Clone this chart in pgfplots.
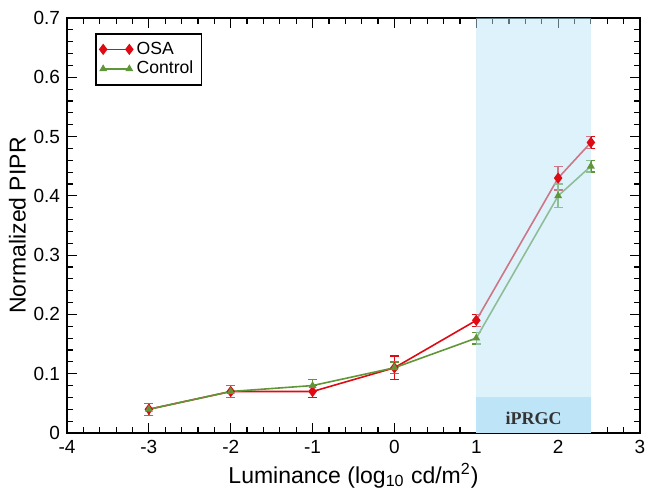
\documentclass[border=0pt]{standalone}
\usepackage{fontspec}
\setmainfont{Liberation Sans}
\newfontfamily\serifb{Liberation Serif}
\usepackage{pgfplots}
\pgfplotsset{compat=1.18}
\definecolor{osared}{RGB}{222,10,20}
\definecolor{ctrlgreen}{RGB}{95,150,55}
\definecolor{shadecol}{RGB}{189,229,249}
\definecolor{bandcol}{RGB}{190,228,248}
\begin{document}
\begin{tikzpicture}
\begin{axis}[
  scale only axis,
  width=286.5pt, height=207.5pt,
  xmin=-4, xmax=3, ymin=0, ymax=0.7,
  xtick={-4,...,3},
  ytick={0,0.1,...,0.7},
  minor x tick num=4, minor y tick num=4,
  tick align=inside,
  major tick length=5pt, minor tick length=3pt,
  tick style={black, line width=0.6pt},
  axis line style={line width=0.8pt},
  /pgf/number format/assume math mode=true,
  /pgf/number format/.cd, fixed, precision=1, /pgfplots/.cd,
  ticklabel style={font=\fontsize{9.5}{11}\selectfont},
  label style={font=\fontsize{11.5}{13}\selectfont},
  xlabel={Luminance (log\textsubscript{10} cd/m\textsuperscript{2})},
  ylabel={Normalized PIPR},
  xlabel style={yshift=2pt},
  ylabel style={yshift=-3pt},
  legend style={at={(0.049,0.964)}, anchor=north west, draw=black, line width=0.8pt,
    font=\fontsize{8.8}{9.5}\selectfont, inner sep=2pt, row sep=-2pt},
  legend cell align=left,
  legend image code/.code={\draw[mark repeat=2, mark phase=1] plot coordinates {(0cm,0cm)(0.23cm,0cm)(0.46cm,0cm)};},
  clip=false,
]
\addplot[osared, line width=0.8pt, mark=diamond*, mark size=2.2pt,
  error bars/.cd, y dir=both, y explicit, error bar style={line width=0.7pt}, error mark options={rotate=90, mark size=2.2pt, line width=0.7pt}]
  coordinates {
  (-3,0.04) +- (0,0.01)
  (-2,0.07) +- (0,0.01)
  (-1,0.07) +- (0,0.01)
  (0,0.11) +- (0,0.02)
  (1,0.19) +- (0,0.01)
  (2,0.43) +- (0,0.02)
  (2.4,0.49) +- (0,0.01)
  };
\addlegendentry{OSA}
\addplot[ctrlgreen, line width=0.8pt, mark=triangle*, mark size=1.5pt,
  error bars/.cd, y dir=both, y explicit, error bar style={line width=0.7pt}, error mark options={rotate=90, mark size=2.2pt, line width=0.7pt}]
  coordinates {
  (-3,0.04) +- (0,0.01)
  (-2,0.07) +- (0,0.01)
  (-1,0.08) +- (0,0.01)
  (0,0.11) +- (0,0.01)
  (1,0.16) +- (0,0.01)
  (2,0.40) +- (0,0.02)
  (2.4,0.45) +- (0,0.01)
  };
\addlegendentry{Control}
\fill[shadecol, opacity=0.5] (axis cs:1,0) rectangle (axis cs:2.4,0.7);
\fill[bandcol] (axis cs:1,0) rectangle (axis cs:2.4,0.06);
\node[font=\serifb\bfseries\fontsize{9}{10}\selectfont, text=black!80] at (axis cs:1.7,0.025) {iPRGC};
\end{axis}
\pgfresetboundingbox
\path ([shift={(-33.5pt,-33pt)}]current axis.south west) rectangle ([shift={(4.5pt,9pt)}]current axis.north east);
\end{tikzpicture}
\end{document}
